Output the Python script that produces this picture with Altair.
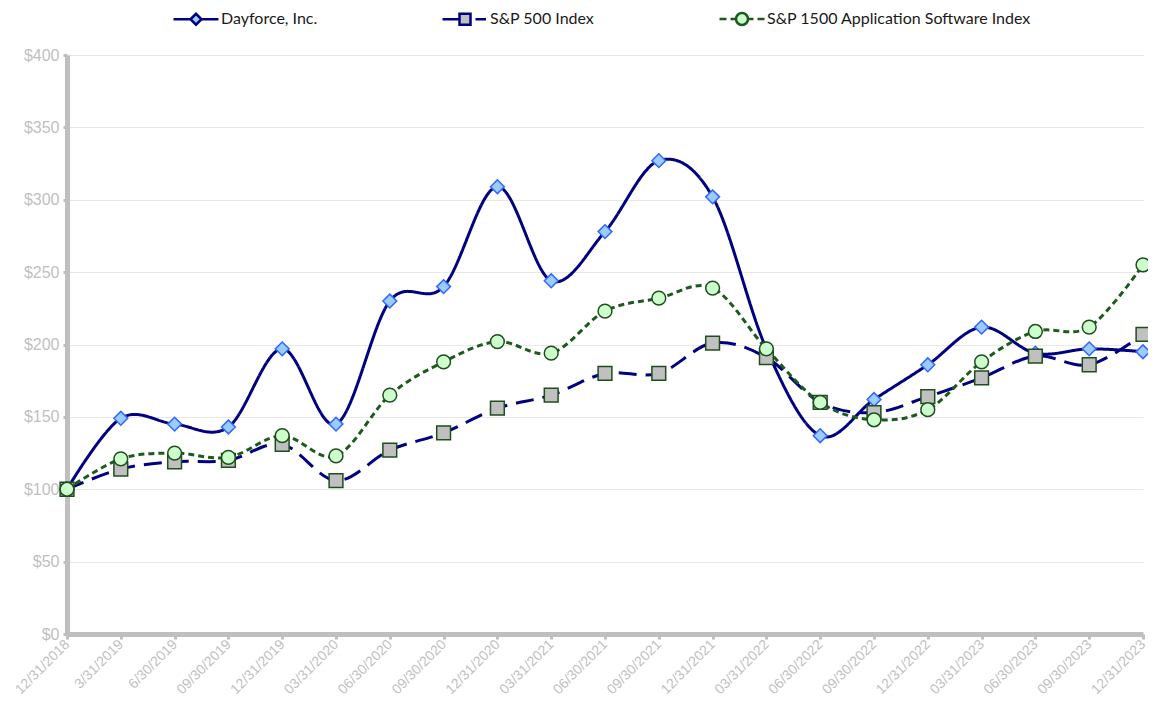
import altair as alt
import pandas as pd

dates = ["12/31/2018", "3/31/2019", "6/30/2019", "09/30/2019", "12/31/2019",
         "03/31/2020", "06/30/2020", "09/30/2020", "12/31/2020", "03/31/2021",
         "06/30/2021", "09/30/2021", "12/31/2021", "03/31/2022", "06/30/2022",
         "09/30/2022", "12/31/2022", "03/31/2023", "06/30/2023", "09/30/2023",
         "12/31/2023"]

series = ["Dayforce, Inc.", "S&P 500 Index", "S&P 1500 Application Software Index"]

dayforce = [100, 149, 145, 143, 197, 145, 230, 240, 309, 244, 278, 327, 302,
            197, 137, 162, 186, 212, 194, 197, 195]
sp500 = [100, 114, 119, 120, 131, 106, 127, 139, 156, 165, 180, 180, 201,
         191, 160, 153, 164, 177, 192, 186, 207]
sp1500 = [100, 121, 125, 122, 137, 123, 165, 188, 202, 194, 223, 232, 239,
          197, 160, 148, 155, 188, 209, 212, 255]

rows = []
for name, vals in zip(series, [dayforce, sp500, sp1500]):
    for i, (d, v) in enumerate(zip(dates, vals)):
        rows.append({"date": d, "idx": i, "series": name, "value": v})
df = pd.DataFrame(rows)

line_colors = ["#000080", "#000080", "#1E5A1E"]
dashes = [[1, 0], [18, 9], [6, 4]]
point_shapes = ["diamond", "square", "circle"]
point_fills = ["#99CCFF", "#C0C0C0", "#CCFFCC"]
point_strokes = ["#3366FF", "#1E4D1E", "#1E4D1E"]

legend_paths = [
    "M-4.5,0H-1.1M-1.1,0L0,-1.1L1.1,0L0,1.1ZM1.1,0H4.5",
    "M-4.5,0H-1.1M-1.1,-1.1H1.1V1.1H-1.1ZM2.1,0H4.2",
    "M-4.5,0H-3.1M-2.3,0H-1.2M1.2,0A1.2,1.2 0 1,1 -1.2,0A1.2,1.2 0 1,1 1.2,0M1.2,0H2.3M3.1,0H4.5",
]

x_enc = alt.X("date:O", sort=dates, title=None,
              scale=alt.Scale(type="point", padding=0),
              axis=alt.Axis(labelAngle=-45, labelAlign="right", labelBaseline="middle",
                            labelColor="#BFBFBF", labelFontSize=14,
                            labelFont="Liberation Sans", domainColor="#BFBFBF",
                            domainWidth=5, tickColor="#BFBFBF", tickSize=5,
                            tickWidth=3, labelPadding=3, grid=False))
y_enc = alt.Y("value:Q", title=None,
              scale=alt.Scale(domain=[0, 400], nice=False),
              axis=alt.Axis(values=list(range(0, 401, 50)), format="$.0f",
                            labelColor="#BFBFBF", labelFontSize=16,
                            labelFont="Liberation Sans", domainColor="#BFBFBF",
                            domainWidth=5, tickColor="#BFBFBF", tickSize=4,
                            tickWidth=3, labelPadding=4, grid=True,
                            gridColor="#E8E8E8", gridWidth=1))

base = alt.Chart(df)

lines = base.mark_line(interpolate="cardinal", strokeWidth=3).encode(
    x=x_enc, y=y_enc,
    color=alt.Color("series:N", scale=alt.Scale(domain=series, range=line_colors), legend=None),
    strokeDash=alt.StrokeDash("series:N", scale=alt.Scale(domain=series, range=dashes), legend=None),
    detail="series:N",
)

points = base.mark_point(filled=False, size=190, strokeWidth=1.5, opacity=1).encode(
    x=x_enc, y=y_enc,
    shape=alt.Shape("series:N", scale=alt.Scale(domain=series, range=point_shapes), legend=None),
    fill=alt.Fill("series:N", scale=alt.Scale(domain=series, range=point_fills), legend=None),
    stroke=alt.Stroke("series:N", scale=alt.Scale(domain=series, range=point_strokes), legend=None),
)

legend_layer = base.transform_filter("datum.value < 0").mark_point(filled=False, strokeWidth=2.5, opacity=1).encode(
    x=x_enc, y=y_enc,
    shape=alt.Shape("series:N", scale=alt.Scale(domain=series, range=legend_paths),
                    legend=alt.Legend(title=None, orient="none", direction="horizontal",
                                      legendX=121, legendY=-44, labelFont="Lato",
                                      labelFontSize=16, labelColor="#1A1A1A",
                                      labelOffset=17, columnPadding=119, labelLimit=500,
                                      symbolSize=100, symbolStrokeWidth=2.5,
                                      padding=0)),
    fill=alt.Fill("series:N", scale=alt.Scale(domain=series, range=point_fills)),
    stroke=alt.Stroke("series:N", scale=alt.Scale(domain=series, range=line_colors)),
)

chart = alt.layer(lines, points, legend_layer).resolve_scale(
    shape="independent", fill="independent", stroke="independent", color="independent"
).properties(
    width=1076, height=579,
    autosize=alt.AutoSizeParams(type="none"),
    padding={"left": 59, "top": 47, "right": 5, "bottom": 66},
).configure_view(stroke=None)

chart.save("out.html", embed_options={"renderer": "svg", "actions": False})
